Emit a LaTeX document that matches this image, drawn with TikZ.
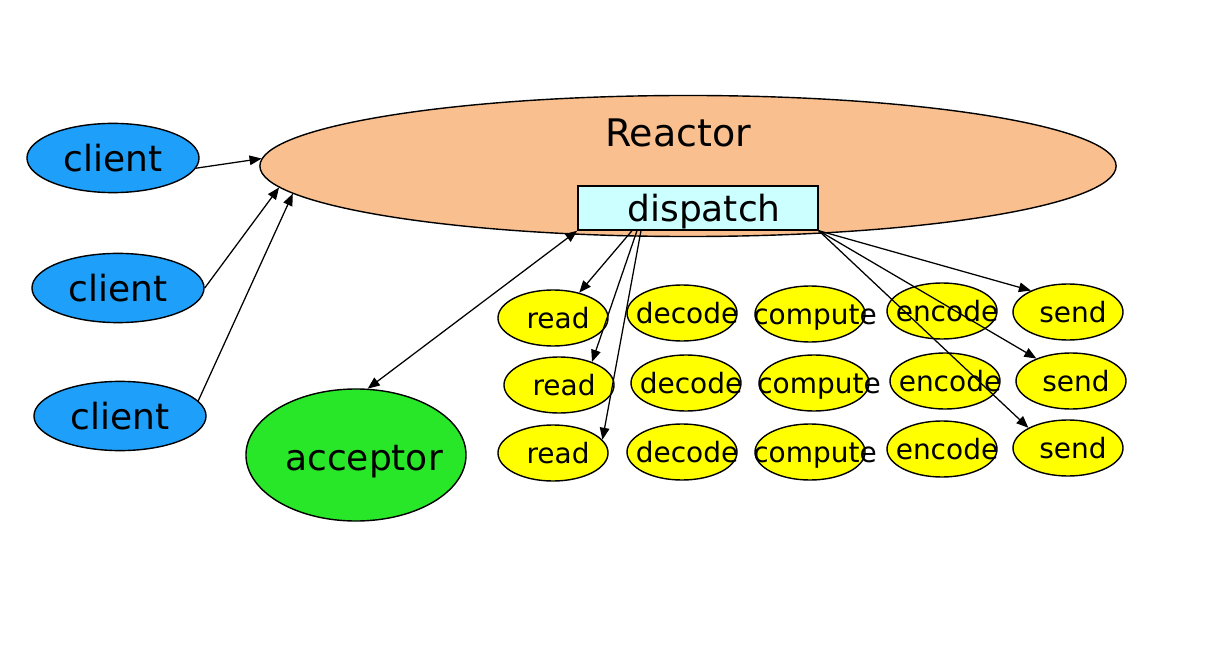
\documentclass[tikz,border=0pt]{standalone}
\usepackage{fontspec}
\setmainfont{DejaVu Sans}
\usepackage{tikz}
\usetikzlibrary{arrows.meta,shapes.geometric}
\definecolor{reactorpeach}{RGB}{250,191,143}
\definecolor{dispatchcyan}{RGB}{204,255,255}
\definecolor{clientblue}{RGB}{30,160,250}
\definecolor{acceptorgreen}{RGB}{40,230,40}
\definecolor{stageyellow}{RGB}{255,255,0}
\newcommand{\stagetext}[1]{\kern0.25cm\makebox[0pt]{\rule[-4.8pt]{0pt}{24pt}#1}}

\begin{document}
\begin{tikzpicture}[
    x=0.025cm, y=-0.025cm,
    bigtext/.style={font=\fontsize{25.6}{30}\selectfont},
    client/.style={ellipse, draw, line width=1pt, fill=clientblue, minimum width=4.3cm, minimum height=1.73cm, bigtext},
    stage/.style={ellipse, draw, line width=1pt, fill=stageyellow, minimum width=2.75cm, minimum height=1.4cm, inner sep=0pt, font=\fontsize{19.9}{24}\selectfont},
    arrow/.style={-{Triangle[length=3mm, width=2.4mm]}, line width=0.9pt},
    dblarrow/.style={{Triangle[length=3mm, width=2.4mm]}-{Triangle[length=3mm, width=2.4mm]}, line width=0.9pt}
]
    \useasboundingbox (0,0) rectangle (1216,662);

    % Clients
    \node[client] (client1) at (113,158) {client};
    \node[client] (client2) at (118,288) {client};
    \node[client] (client3) at (120,416) {client};

    % Reactor + dispatch
    \node[ellipse, draw, line width=1pt, fill=reactorpeach, minimum width=21.4cm, minimum height=3.525cm] (reactor) at (688,166) {};
    \node[font=\fontsize{27}{32}\selectfont] (reactortitle) at (678,133) {Reactor};
    \node[draw, line width=1pt, fill=dispatchcyan, minimum width=6cm, minimum height=1.1cm, inner sep=0pt, text height=25pt, text depth=6pt, bigtext] (dispatch) at (698,208) {\hspace*{0.3cm}dispatch};

    % Acceptor
    \node[ellipse, draw, line width=1pt, fill=acceptorgreen, minimum width=5.5cm, minimum height=3.3cm, inner sep=0pt, bigtext] (acceptor) at (356,455) {\kern0.4cm\makebox[0pt]{\rule[-6.1pt]{0pt}{34pt}acceptor}};

    % Row 1 — handlers
    \node[stage] (read1) at (553,318) {\stagetext{read}};
    \node[stage] (decode1) at (682,313) {\stagetext{decode}};
    \node[stage] (compute1) at (810,314) {\stagetext{compute}};
    \node[stage] (encode1) at (942,311) {\stagetext{encode}};
    \node[stage] (send1) at (1068,312) {\stagetext{send}};

    % Row 2
    \node[stage] (read2) at (559,385) {\stagetext{read}};
    \node[stage] (decode2) at (686,383) {\stagetext{decode}};
    \node[stage] (compute2) at (814,383) {\stagetext{compute}};
    \node[stage] (encode2) at (945,381) {\stagetext{encode}};
    \node[stage] (send2) at (1071,381) {\stagetext{send}};

    % Row 3
    \node[stage] (read3) at (553,453) {\stagetext{read}};
    \node[stage] (decode3) at (682,452) {\stagetext{decode}};
    \node[stage] (compute3) at (810,452) {\stagetext{compute}};
    \node[stage] (encode3) at (942,449) {\stagetext{encode}};
    \node[stage] (send3) at (1068,448) {\stagetext{send}};

    % Arrows
    \draw[arrow] (client1.-7) -- (reactor.179);
    \draw[arrow] (client2.east) -- (reactor.183);
    \draw[arrow] (client3.11) -- (reactor.184.4);
    \draw[dblarrow] (dispatch.south west) -- (acceptor.80);
    \draw[arrow] ([xshift=-1.65cm]dispatch.south) -- (read1.44);
    \draw[arrow] ([xshift=-1.525cm]dispatch.south) -- (read2.35);
    \draw[arrow] ([xshift=-1.425cm]dispatch.south) -- (read3.15);
    \draw[arrow] (dispatch.south east) -- (send1.150);
    \draw[arrow] (dispatch.south east) -- (send2.147);
    \draw[arrow] (dispatch.south east) -- (send3.153);
\end{tikzpicture}
\end{document}
